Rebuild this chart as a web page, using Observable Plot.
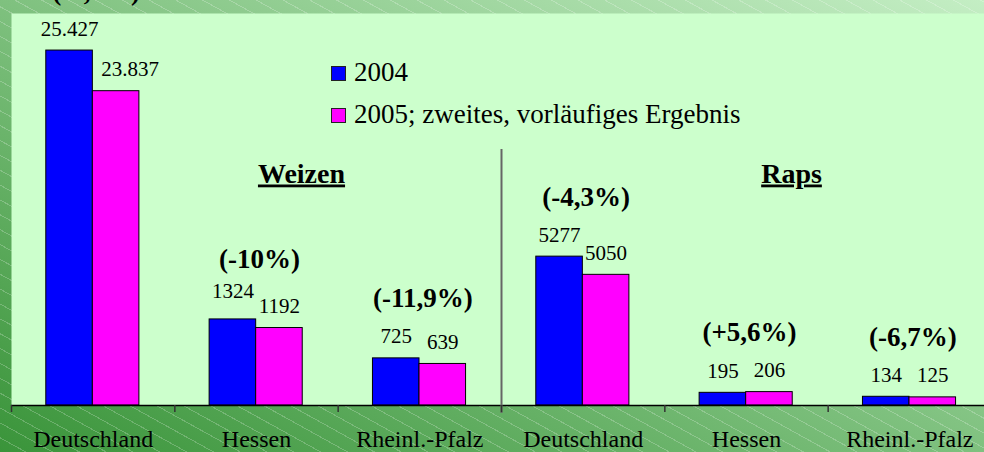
<!DOCTYPE html>
<html>
<head>
<meta charset="utf-8">
<script src="https://cdn.jsdelivr.net/npm/d3@7"></script>
<script src="https://cdn.jsdelivr.net/npm/@observablehq/plot@0.6"></script>
<style>
  html, body { margin: 0; padding: 0; }
  body { width: 984px; height: 452px; overflow: hidden; font-family: "Liberation Serif", "Times New Roman", serif; }
  #wrap { position: relative; width: 984px; height: 452px; }
  .lg-sq { position: absolute; width: 15px; height: 15px; box-sizing: border-box; border: 1px solid #222; }
  .lg-tx { position: absolute; font-size: 27px; line-height: 1; white-space: nowrap; color: #000; }
</style>
</head>
<body>
<div id="wrap"></div>
<script>
// ---- data ----
const regions = ["Deutschland", "Hessen", "Rheinl.-Pfalz", "Deutschland", "Hessen", "Rheinl.-Pfalz"];
const crops = ["Weizen", "Weizen", "Weizen", "Raps", "Raps", "Raps"];
const years = ["2004", "2005; zweites, vorläufiges Ergebnis"];
const labels2004 = ["25.427", "1324", "725", "5277", "195", "134"];
const labels2005 = ["23.837", "1192", "639", "5050", "206", "125"];
// bar heights as drawn in the chart (the Deutschland bars are shortened in the original)
const bar2004 = [5460, 1324, 725, 2290, 195, 134];
const bar2005 = [4835, 1192, 639, 2010, 206, 125];
const pctLabels = ["(-6,3%)", "(-10%)", "(-11,9%)", "(-4,3%)", "(+5,6%)", "(-6,7%)"];
const sections = ["Weizen", "Raps"];

const colors = {"2004": "#0000FF", "2005": "#FF00FF"};
const data = [];
regions.forEach((r, i) => {
  data.push({i, region: r, crop: crops[i], year: "2004", h: bar2004[i], label: labels2004[i]});
  data.push({i, region: r, crop: crops[i], year: "2005", h: bar2005[i], label: labels2005[i]});
});

const START = 0.213, BW = 0.285;
const x1 = d => d.i + START + (d.year === "2004" ? 0 : BW);
const x2 = d => d.i + START + (d.year === "2004" ? BW : 2 * BW);
const xc = d => d.i + START + (d.year === "2004" ? BW / 2 : 1.5 * BW);

const font = "'Liberation Serif', 'Times New Roman', serif";
const isSpecial = d => d.i === 0 && d.year === "2005";
const isHigh = d => d.i === 1 && d.year === "2004";

const chart = Plot.plot({
  width: 984,
  height: 452,
  marginTop: 13,
  marginBottom: 47,
  marginLeft: 11,
  marginRight: 0,
  style: {
    fontFamily: font,
    overflow: "hidden",
    background: "repeating-linear-gradient(29deg, rgba(255,255,255,0) 0px, rgba(255,255,255,0) 12px, rgba(255,255,255,0.22) 12px, rgba(255,255,255,0.22) 13px), linear-gradient(to top right, #3a943a, #c4eec4)"
  },
  x: {type: "linear", domain: [0, 6], range: [11, 991], axis: null},
  y: {domain: [0, 6030], range: [405, 13], axis: null},
  marks: [
    Plot.frame({fill: "#CCFFCC", stroke: null}),
    Plot.rectY(data, {
      x1, x2, y1: 0, y2: "h",
      fill: d => colors[d.year],
      stroke: "#000", strokeWidth: 1
    }),
    Plot.ruleY([0], {stroke: "#000", strokeWidth: 1.5}),
    Plot.ruleX([3], {stroke: "#666", strokeWidth: 2, insetTop: 136, insetBottom: -8}),
    Plot.axisX({ticks: d3.range(7), tickSize: 7, tickFormat: () => "", stroke: "#333", strokeWidth: 1.5}),
    Plot.axisX({
      ticks: d3.range(6).map(i => i + 0.5),
      tickSize: 0, tickPadding: 24,
      tickFormat: d => regions[Math.floor(d)],
      fontSize: 24, fill: "#000"
    }),
    // value labels
    Plot.text(data.filter(d => !isSpecial(d) && !isHigh(d)), {
      x: xc, y: "h", text: "label", lineAnchor: "bottom", dy: -15,
      fontSize: 21, fill: "#000"
    }),
    Plot.text(data.filter(isHigh), {
      x: xc, y: "h", text: "label", lineAnchor: "bottom", dy: -21,
      fontSize: 21, fill: "#000"
    }),
    Plot.text(data.filter(isSpecial), {
      x: xc, y: "h", text: "label", lineAnchor: "bottom", dy: -15, dx: 14,
      fontSize: 21, fill: "#000"
    }),
    // percentage change labels
    Plot.text(pctLabels, {
      x: (d, i) => i + 0.5,
      y: (d, i) => Math.max(bar2004[i], bar2005[i]),
      text: d => d, lineAnchor: "bottom", dy: -51, dx: 3,
      fontSize: 27, fontWeight: "bold", fill: "#000"
    }),
    // section titles
    Plot.text(sections, {
      x: (d, i) => 1.5 + 3 * i,
      frameAnchor: "top", lineAnchor: "bottom", dy: 169, dx: 45,
      text: d => d, fontSize: 28, fontWeight: "bold", fill: "#000"
    })
  ]
});

d3.select(chart).selectAll("text")
  .filter(function () { return sections.includes(this.textContent); })
  .style("text-decoration", "underline");

const wrap = document.getElementById("wrap");
wrap.appendChild(chart);

// legend
const legendColors = [colors["2004"], colors["2005"]];
years.forEach((label, k) => {
  const sq = document.createElement("div");
  sq.className = "lg-sq";
  sq.style.background = legendColors[k];
  sq.style.left = "331px";
  sq.style.top = (66 + k * 42) + "px";
  wrap.appendChild(sq);
  const tx = document.createElement("div");
  tx.className = "lg-tx";
  tx.textContent = label;
  tx.style.left = "354px";
  tx.style.top = (59 + k * 42) + "px";
  wrap.appendChild(tx);
});
</script>
</body>
</html>
